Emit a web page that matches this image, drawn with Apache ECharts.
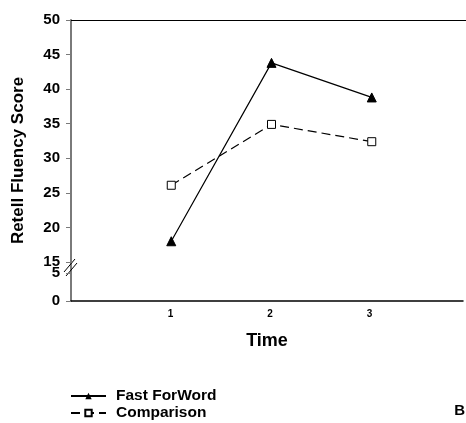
<!DOCTYPE html>
<html>
<head>
<meta charset="utf-8">
<script src="https://cdn.jsdelivr.net/npm/echarts@6/dist/echarts.min.js"></script>
<style>
html,body{margin:0;padding:0;background:#fff;}
#main{width:466px;height:423px;}
</style>
</head>
<body>
<div id="main"></div>
<script>
// ---- data ----
const times = [1, 2, 3];
const fastForWord = [18.0, 43.8, 38.8];
const comparison = [26.1, 34.9, 32.4];
const seriesNames = ['Fast ForWord', 'Comparison'];
const xTickLabels = ['1', '2', '3'];
const upperRange = [15, 50];
const lowerRange = [0, 5];

const FONT = '"Liberation Sans", Arial, sans-serif';
const pairs = (ys) => times.map((t, i) => [t, ys[i]]);

const chart = echarts.init(document.getElementById('main'), null, {renderer: 'canvas'});
const axisGray = '#7a7a7a';
const legendText = {color: '#000', fontFamily: FONT, fontWeight: 'bold', fontSize: 15.5, padding: [0, 0, 0, 5]};

chart.setOption({
  animation: false,
  backgroundColor: '#fff',
  grid: [
    {left: 71, right: 0, top: 20, height: 242},
    {left: 71, right: 0, top: 273, height: 28},
    {left: 71, right: 0, top: 20, height: 281}
  ],
  xAxis: [
    {gridIndex: 0, type: 'value', min: 0, max: 3.94, interval: 1, position: 'top',
     axisLine: {show: true, lineStyle: {color: '#000', width: 1}},
     axisTick: {show: false}, axisLabel: {show: false}, splitLine: {show: false}},
    {gridIndex: 1, type: 'value', min: 0, max: 3.94, interval: 1, position: 'bottom',
     axisLine: {show: true, lineStyle: {color: '#000', width: 1.5}},
     axisTick: {show: false}, splitLine: {show: false},
     axisLabel: {show: true, margin: 8, color: '#000', fontFamily: FONT, fontWeight: 'bold', fontSize: 10,
       formatter: (v) => xTickLabels.indexOf(String(v)) >= 0 ? String(v) : ''},
     name: 'Time', nameLocation: 'middle', nameGap: 31,
     nameTextStyle: {color: '#000', fontFamily: FONT, fontWeight: 'bold', fontSize: 18}},
    {gridIndex: 2, type: 'value', min: 0, max: 3.94, show: false}
  ],
  yAxis: [
    {gridIndex: 0, type: 'value', min: upperRange[0], max: upperRange[1], interval: 5,
     axisLine: {show: true, lineStyle: {color: axisGray, width: 2}},
     axisTick: {show: true, length: 5, lineStyle: {color: axisGray, width: 1}},
     axisLabel: {margin: 11, color: '#000', fontFamily: FONT, fontWeight: 'bold', fontSize: 15},
     splitLine: {show: false}},
    {gridIndex: 1, type: 'value', min: lowerRange[0], max: lowerRange[1], interval: 5,
     axisLine: {show: true, lineStyle: {color: axisGray, width: 2}},
     axisTick: {show: true, length: 5, lineStyle: {color: axisGray, width: 1}},
     axisLabel: {margin: 11, color: '#000', fontFamily: FONT, fontWeight: 'bold', fontSize: 15},
     splitLine: {show: false}},
    {gridIndex: 2, type: 'value', min: 0, max: 1,
     axisLine: {show: false}, axisTick: {show: false}, axisLabel: {show: false}, splitLine: {show: false},
     name: 'Retell Fluency Score', nameLocation: 'middle', nameGap: 44,
     nameTextStyle: {color: '#000', fontFamily: FONT, fontWeight: 'bold', fontSize: 17}}
  ],
  legend: [
    {left: 70, top: 388, itemWidth: 35, itemHeight: 8, data: [seriesNames[0]], textStyle: legendText, padding: 0},
    {left: 70, top: 405, itemWidth: 35, itemHeight: 8, data: [seriesNames[1]], textStyle: legendText, padding: 0}
  ],
  series: [
    {name: seriesNames[0], type: 'line', xAxisIndex: 0, yAxisIndex: 0, data: pairs(fastForWord),
     symbol: 'triangle', symbolSize: 9,
     lineStyle: {color: '#000', width: 1.2},
     itemStyle: {color: '#000', borderColor: '#000'}},
    {name: seriesNames[1], type: 'line', xAxisIndex: 0, yAxisIndex: 0, data: pairs(comparison),
     symbol: 'rect', symbolSize: 8,
     lineStyle: {color: '#000', width: 1.2, type: [9, 5]},
     itemStyle: {color: '#fff', borderColor: '#000', borderWidth: 1}}
  ],
  graphic: [
    {type: 'line', shape: {x1: 71, y1: 262, x2: 71, y2: 273}, style: {stroke: axisGray, lineWidth: 2}},
    {type: 'line', shape: {x1: 64, y1: 272, x2: 75, y2: 259}, style: {stroke: '#000', lineWidth: 1}},
    {type: 'line', shape: {x1: 66, y1: 276, x2: 77, y2: 263}, style: {stroke: '#000', lineWidth: 1}},
    {type: 'text', right: 1, top: 403, style: {text: 'B', fill: '#000', font: 'bold 15px ' + FONT}}
  ]
});
</script>
</body>
</html>
